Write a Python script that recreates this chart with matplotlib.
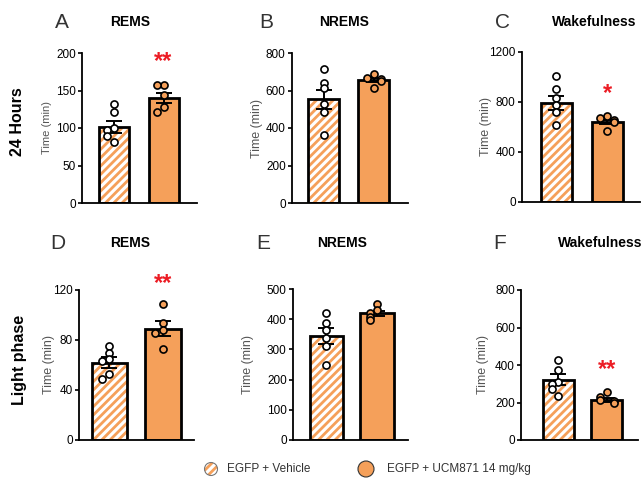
import matplotlib
matplotlib.use('Agg')
import matplotlib.pyplot as plt
from matplotlib.patches import Ellipse

plt.rcParams['font.family'] = ['Liberation Sans Narrow', 'Liberation Sans', 'DejaVu Sans']
plt.rcParams['hatch.linewidth'] = 2.0

orange = '#F5A05A'
red = '#EC1C24'

# data
groups = ['EGFP + Vehicle', 'EGFP + UCM871 14 mg/kg']
letters = ['A', 'B', 'C', 'D', 'E', 'F']
titles = ['REMS', 'NREMS', 'Wakefulness', 'REMS', 'NREMS', 'Wakefulness']
row_labels = ['24 Hours', 'Light phase']

bar_means = [[101, 140], [553, 656], [794, 637], [62, 89], [344, 419], [322, 214]]
bar_sem = [[8, 7], [50, 11], [56, 16], [4.4, 6], [26, 9], [28, 9]]
veh_points = [[132, 121, 100, 97, 90, 82],
              [713, 642, 612, 528, 484, 363],
              [1008, 901, 834, 776, 717, 616],
              [75, 70, 65, 63, 53, 49],
              [422, 389, 364, 339, 311, 250],
              [427, 374, 307, 298, 272, 236]]
drug_points = [[157, 157, 144, 128, 121],
               [688, 667, 660, 650, 615],
               [690, 669, 656, 642, 568],
               [109, 94, 88, 86, 73],
               [450, 430, 419, 408, 397],
               [254, 227, 212, 208, 195]]
y_max = [200, 800, 1200, 120, 500, 800]
y_step = [50, 200, 400, 40, 100, 200]
stars = ['**', '', '*', '**', '', '**']

# layout (pixels): axes left, right, top, bottom
W, H = 644, 479
boxes = [(82, 197, 53, 203), (292, 408, 53, 203), (522, 640, 52, 202),
         (79, 194, 290, 440), (293, 408, 289, 440), (521, 638, 290, 440)]
xlims = [(-0.63, 1.67), (-0.63, 1.69), (-0.68, 1.65),
         (-0.57, 1.58), (-0.66, 1.61), (-0.77, 1.64)]
bar_w = [0.6, 0.62, 0.61, 0.66, 0.66, 0.64]
ylabel_x = [47, 258, 487, 50, 249, 484]
ylabel_size = [8, 9, 9, 9, 9, 9]
letter_pos = [(62, 22), (266, 22), (503, 22), (58, 243), (263, 243), (500, 243)]
title_pos = [(130, 22), (344, 22), (594, 22), (130, 243), (342, 243), (600, 243)]
star_y = [0.94, 0, 0.72, 1.04, 0, 0.47]


def jitter(vals, ymax):
    placed = []
    offs = []
    steps = [0, -0.14, 0.14, -0.26, 0.26]
    for v in vals:
        k = len([p for p in placed if abs(p - v) < 0.035 * ymax])
        offs.append(steps[min(k, 4)])
        placed.append(v)
    return offs


fig = plt.figure(figsize=(W / 100, H / 100), dpi=100)

for i in range(6):
    l, r, t, b = boxes[i]
    ax = fig.add_axes([l / W, 1 - b / H, (r - l) / W, (b - t) / H])
    m = bar_means[i]
    # hatched vehicle bar
    ax.bar(0, m[0], width=bar_w[i], color='white', edgecolor=orange, hatch='////', linewidth=0, zorder=1)
    ax.bar(0, m[0], width=bar_w[i], fill=False, edgecolor='black', linewidth=2, zorder=2)
    ax.bar(1, m[1], width=bar_w[i], color=orange, edgecolor='black', linewidth=2, zorder=2)
    ax.errorbar([0, 1], m, yerr=bar_sem[i], fmt='none', ecolor='black', elinewidth=1.4,
                capsize=6, capthick=1.4, zorder=3)
    vj = jitter(veh_points[i], y_max[i])
    dj = jitter(drug_points[i], y_max[i])
    ax.scatter([o for o in vj], veh_points[i], s=26, facecolor='white', edgecolor='black',
               linewidth=1.2, zorder=4, clip_on=False)
    ax.scatter([1 + o for o in dj], drug_points[i], s=26, facecolor=orange, edgecolor='black',
               linewidth=1.2, zorder=4, clip_on=False)
    if stars[i]:
        ax.text(1, star_y[i] * y_max[i], stars[i], color=red, fontsize=17, fontweight='bold',
                ha='center', va='center', family=['Liberation Sans', 'DejaVu Sans'])
    ax.set_xlim(*xlims[i])
    ax.set_ylim(0, y_max[i])
    ax.set_yticks(range(0, y_max[i] + 1, y_step[i]))
    ax.set_xticks([])
    for s in ['top', 'right']:
        ax.spines[s].set_visible(False)
    for s in ['left', 'bottom']:
        ax.spines[s].set_linewidth(1.3)
    ax.tick_params(axis='y', length=3, width=1.2, labelsize=8.5, pad=1.5, colors='black')
    ax.set_ylabel('Time (min)', fontsize=ylabel_size[i], color='#555555')
    ax.yaxis.set_label_coords((ylabel_x[i] + 5 - l) / (r - l), 0.5)
    ax.patch.set_alpha(0)

    fig.text(letter_pos[i][0] / W, 1 - letter_pos[i][1] / H, letters[i], fontsize=15,
             color='#333333', ha='center', va='center', family=['Liberation Sans', 'DejaVu Sans'])
    fig.text(title_pos[i][0] / W, 1 - title_pos[i][1] / H, titles[i], fontsize=10,
             fontweight='bold', ha='center', va='center', family=['Liberation Sans', 'DejaVu Sans'])

fig.text(17 / W, 1 - 122 / H, row_labels[0], rotation=90, fontsize=11.5, fontweight='bold',
         ha='center', va='center', family=['Liberation Sans', 'DejaVu Sans'])
fig.text(20 / W, 1 - 360 / H, row_labels[1], rotation=90, fontsize=11.5, fontweight='bold',
         ha='center', va='center', family=['Liberation Sans', 'DejaVu Sans'])

# legend
fig.add_artist(Ellipse((211 / W, 1 - 469 / H), 13 / W, 13 / H, transform=fig.transFigure,
                       facecolor='white', edgecolor=orange, hatch='////', linewidth=0))
fig.add_artist(Ellipse((211 / W, 1 - 469 / H), 13 / W, 13 / H, transform=fig.transFigure,
                       fill=False, edgecolor='#777777', linewidth=0.8))
fig.add_artist(Ellipse((366 / W, 1 - 469 / H), 16 / W, 16 / H, transform=fig.transFigure,
                       facecolor=orange, edgecolor='#333333', linewidth=0.8))
fig.text(227 / W, 1 - 469 / H, groups[0], fontsize=8.5, color='#333333', va='center',
         family=['Liberation Sans', 'DejaVu Sans'])
fig.text(387 / W, 1 - 469 / H, groups[1], fontsize=8.5, color='#333333', va='center',
         family=['Liberation Sans', 'DejaVu Sans'])

fig.savefig('out.png', dpi=100)
